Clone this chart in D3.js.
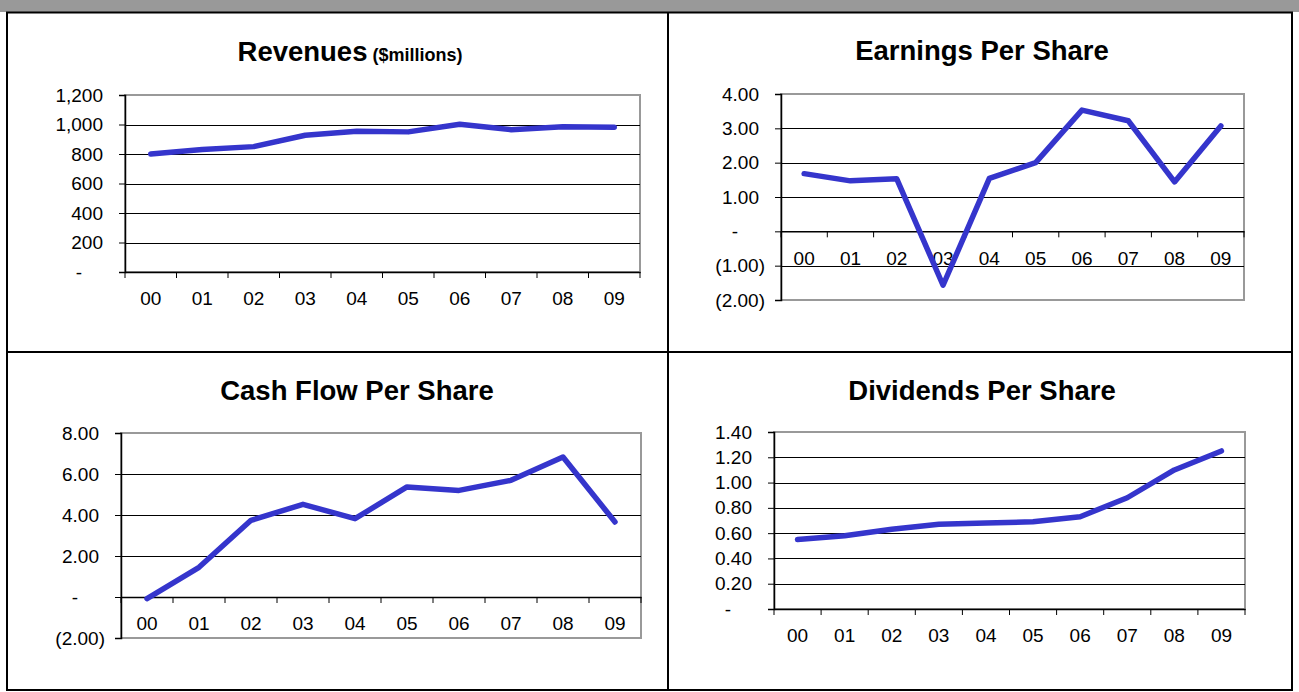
<!DOCTYPE html>
<html>
<head>
<meta charset="utf-8">
<script src="https://cdn.jsdelivr.net/npm/d3@7"></script>
<style>
  body { margin: 0; background: #fff; }
  svg { display: block; font-family: "Liberation Sans", Arial, sans-serif; }
</style>
</head>
<body>
<svg width="1299" height="692"></svg>
<script>
// Fiscal years on every chart
const years = ["00", "01", "02", "03", "04", "05", "06", "07", "08", "09"];

// Series
const revenues = [800, 830, 850, 927, 954, 950, 1002, 965, 984, 982];
const eps = [1.68, 1.47, 1.53, -1.57, 1.54, 2.00, 3.53, 3.22, 1.44, 3.07];
const cashFlow = [-0.08, 1.45, 3.74, 4.52, 3.82, 5.37, 5.20, 5.69, 6.83, 3.66];
const dividends = [0.55, 0.58, 0.63, 0.67, 0.68, 0.69, 0.73, 0.88, 1.10, 1.25];

// Y tick values
const revTicks = [0, 200, 400, 600, 800, 1000, 1200];
const epsTicks = [-2, -1, 0, 1, 2, 3, 4];
const cfTicks = [-2, 0, 2, 4, 6, 8];
const divTicks = [0, 0.2, 0.4, 0.6, 0.8, 1.0, 1.2, 1.4];

const svg = d3.select("svg");

// frame
svg.append("rect").attr("x", 0).attr("y", 0).attr("width", 1299).attr("height", 12).attr("fill", "#999");
svg.append("rect").attr("x", 7).attr("y", 12.5).attr("width", 1285).attr("height", 677.5)
  .attr("fill", "none").attr("stroke", "#000").attr("stroke-width", 2);
svg.append("line").attr("x1", 668).attr("x2", 668).attr("y1", 12).attr("y2", 690)
  .attr("stroke", "#000").attr("stroke-width", 2);
svg.append("line").attr("x1", 7).attr("x2", 1292).attr("y1", 352).attr("y2", 352)
  .attr("stroke", "#000").attr("stroke-width", 2);

const fmtComma = d3.format(",");
const fmtFixed = d3.format(".2f");

function fmt(v, comma) {
  if (v === 0) return "-";
  const s = comma ? fmtComma(Math.abs(v)) : fmtFixed(Math.abs(v));
  return v < 0 ? "(" + s + ")" : s;
}

function drawChart(o) {
  const g = svg.append("g");
  const x = d3.scaleBand().domain(years).range([o.left, o.right]);
  const y = d3.scaleLinear().domain(d3.extent(o.ticks)).range([o.bottom, o.top]);
  const zero = y(0);

  // title
  const t = g.append("text")
    .attr("x", o.titleX).attr("y", o.titleY)
    .attr("text-anchor", "middle")
    .attr("font-size", 27.5).attr("font-weight", "bold")
    .text(o.title);
  if (o.sub) {
    t.append("tspan").attr("font-size", 18).text(" " + o.sub);
  }

  // plot border (grey)
  g.append("rect")
    .attr("x", o.left).attr("y", o.top)
    .attr("width", o.right - o.left).attr("height", o.bottom - o.top)
    .attr("fill", "none").attr("stroke", "#999").attr("stroke-width", 2);

  // gridlines
  g.selectAll(".grid")
    .data(o.ticks.filter(d => d !== 0 && y(d) > o.top + 1 && y(d) < o.bottom - 1))
    .join("line")
    .attr("x1", o.left).attr("x2", o.right)
    .attr("y1", d => Math.round(y(d)) + 0.5).attr("y2", d => Math.round(y(d)) + 0.5)
    .attr("stroke", "#000").attr("stroke-width", 1);

  // y axis
  const ya = g.append("g")
    .attr("transform", `translate(${o.left},0)`)
    .call(d3.axisLeft(y).tickValues(o.ticks).tickSize(6).tickPadding(22).tickFormat(d => fmt(d, o.comma)));
  ya.select(".domain").attr("stroke", "#000").attr("stroke-width", 1.5);
  ya.selectAll(".tick line").attr("stroke", "#000");
  ya.selectAll(".tick text")
    .attr("font-size", 19).attr("fill", "#000")
    .attr("font-family", "Liberation Sans, Arial, sans-serif")
    .attr("x", d => d === 0 ? -46 : d < 0 ? -16 : -22)
    .attr("text-anchor", d => d === 0 ? "middle" : "end");

  // x axis at zero
  const xa = g.append("g")
    .attr("transform", `translate(0,${zero})`)
    .call(d3.axisBottom(x).tickSize(0).tickPadding(20));
  xa.select(".domain").attr("stroke", "#000").attr("stroke-width", 1.5);
  xa.selectAll(".tick text")
    .attr("font-size", 19).attr("fill", "#000")
    .attr("font-family", "Liberation Sans, Arial, sans-serif");
  // tick marks between categories
  xa.selectAll(".sep")
    .data(years.map(d => x(d)).concat([o.right]))
    .join("line")
    .attr("x1", d => d).attr("x2", d => d)
    .attr("y1", 0).attr("y2", 6)
    .attr("stroke", "#000").attr("stroke-width", 1);

  // data line
  const line = d3.line()
    .x((d, i) => x(years[i]) + x.bandwidth() / 2)
    .y(d => y(d));
  g.append("path")
    .datum(o.values)
    .attr("d", line)
    .attr("fill", "none")
    .attr("stroke", "#3535cc")
    .attr("stroke-width", 5.5)
    .attr("stroke-linecap", "round")
    .attr("stroke-linejoin", "round");
}

drawChart({ title: "Revenues", sub: "($millions)", values: revenues, ticks: revTicks, comma: true,
  left: 125, right: 640, top: 95, bottom: 272, titleX: 350, titleY: 61 });
drawChart({ title: "Earnings Per Share", values: eps, ticks: epsTicks,
  left: 781, right: 1244, top: 94, bottom: 300, titleX: 982, titleY: 60 });
drawChart({ title: "Cash Flow Per Share", values: cashFlow, ticks: cfTicks,
  left: 121, right: 641, top: 433, bottom: 638, titleX: 357, titleY: 400 });
drawChart({ title: "Dividends Per Share", values: dividends, ticks: divTicks,
  left: 774, right: 1245, top: 432, bottom: 609, titleX: 982, titleY: 400 });
</script>
</body>
</html>
